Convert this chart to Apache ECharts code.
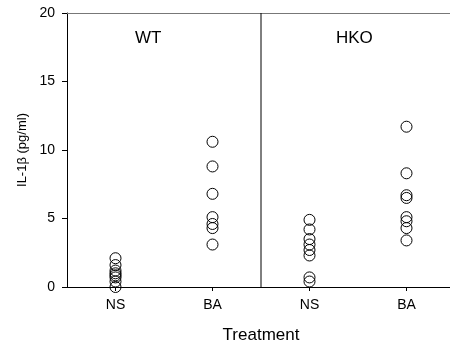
<!DOCTYPE html>
<html>
<head>
<meta charset="utf-8">
<script src="https://cdn.jsdelivr.net/npm/echarts@6/dist/echarts.min.js"></script>
<style>html,body{margin:0;padding:0;background:#fff}#c{width:450px;height:352px}</style>
</head>
<body>
<div id="c"></div>
<script>
var categories = ['WT-NS', 'WT-BA', 'HKO-NS', 'HKO-BA'];
var tickLabels = ['NS', 'BA', 'NS', 'BA'];
var groupLabels = ['WT', 'HKO'];
var wtNS = [2.1, 1.6, 1.2, 1.0, 0.85, 0.7, 0.4, 0.0];
var wtBA = [10.6, 8.8, 6.8, 5.1, 4.6, 4.3, 3.1];
var hkoNS = [4.9, 4.2, 3.5, 3.1, 2.7, 2.3, 0.7, 0.4];
var hkoBA = [11.7, 8.3, 6.7, 6.5, 5.1, 4.8, 4.3, 3.4];
var yTicks = [0, 5, 10, 15, 20];

var groups = [wtNS, wtBA, hkoNS, hkoBA];
var series = groups.map(function (vals, i) {
  return {
    type: 'scatter',
    xAxisIndex: 0,
    symbol: 'circle',
    symbolSize: 11,
    itemStyle: { color: 'rgba(255,255,255,0)', borderColor: '#000', borderWidth: 1, opacity: 1 },
    data: vals.map(function (v) { return [i, v]; }),
    silent: true,
    z: 5
  };
});
series.push({
  type: 'line',
  xAxisIndex: 1,
  data: [[2, 0], [2, 20]],
  symbol: 'none',
  lineStyle: { color: '#000', width: 1 },
  silent: true
});

var chart = echarts.init(document.getElementById('c'), null, { renderer: 'canvas' });
chart.setOption({
  animation: false,
  backgroundColor: '#fff',
  grid: { left: 67, top: 13, width: 388, height: 274, containLabel: false, outerBoundsMode: 'none' },
  xAxis: [{
    type: 'category',
    data: categories,
    boundaryGap: true,
    name: 'Treatment',
    nameLocation: 'middle',
    nameGap: 40,
    nameTextStyle: { fontSize: 17, color: '#000', fontFamily: 'Liberation Sans, Arial' },
    axisLine: { lineStyle: { color: '#000', width: 1 } },
    axisTick: { show: true, alignWithLabel: true, length: 4, lineStyle: { color: '#000' } },
    axisLabel: {
      fontSize: 14, color: '#000', margin: 11, fontFamily: 'Liberation Sans, Arial',
      formatter: function (v, idx) { return tickLabels[categories.indexOf(v)]; }
    },
    splitLine: { show: false }
  }, {
    type: 'value',
    min: 0, max: 4,
    position: 'top',
    axisLine: { show: true, onZero: false, lineStyle: { color: '#777', width: 1 } },
    axisTick: { show: false },
    axisLabel: { show: false },
    splitLine: { show: false }
  }],
  yAxis: {
    type: 'value',
    min: 0, max: 20, interval: 5,
    name: 'IL-1β (pg/ml)',
    nameLocation: 'middle',
    nameGap: 38,
    nameRotate: 90,
    nameTextStyle: { fontSize: 13, color: '#000', fontFamily: 'Liberation Sans, Arial' },
    axisLine: { show: true, lineStyle: { color: '#000', width: 1 } },
    axisTick: { show: true, length: 5, lineStyle: { color: '#000' } },
    axisLabel: {
      fontSize: 14, color: '#000', margin: 12, fontFamily: 'Liberation Sans, Arial',
      formatter: function (v) { return yTicks.indexOf(v) >= 0 ? String(v) : ''; }
    },
    splitLine: { show: false }
  },
  graphic: [
    { type: 'text', left: 135, top: 30, style: { text: groupLabels[0], fontSize: 17, fill: '#000', fontFamily: 'Liberation Sans, Arial' } },
    { type: 'text', left: 336, top: 30, style: { text: groupLabels[1], fontSize: 17, fill: '#000', fontFamily: 'Liberation Sans, Arial' } }
  ],
  series: series
});
</script>
</body>
</html>
